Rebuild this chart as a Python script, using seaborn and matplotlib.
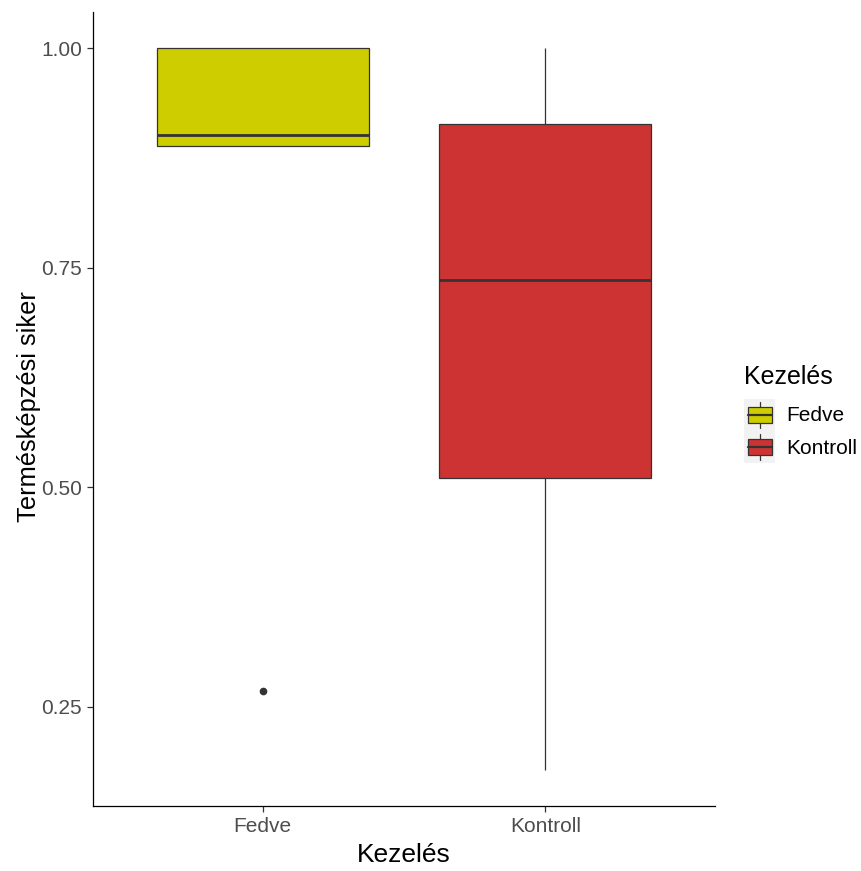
import matplotlib
matplotlib.use("Agg")
import matplotlib.pyplot as plt
from matplotlib.legend_handler import HandlerBase
from matplotlib.patches import Rectangle, Patch
from matplotlib.lines import Line2D
import seaborn as sns
import pandas as pd

# Fruit-set success per treatment group
fedve = [0.268, 0.889, 0.889, 0.901, 1.0, 1.0, 1.0]
kontroll = [0.178, 0.510, 0.736, 0.913, 1.0]
groups = ["Fedve", "Kontroll"]
colors = {"Fedve": "#CDCD00", "Kontroll": "#CD3333"}
y_ticks = [0.25, 0.50, 0.75, 1.00]

df = pd.DataFrame({
    "Kezelés": ["Fedve"] * len(fedve) + ["Kontroll"] * len(kontroll),
    "siker": fedve + kontroll,
})

sns.set_theme(style="white")
plt.rcParams["font.family"] = ["Liberation Sans", "DejaVu Sans"]

fig = plt.figure(figsize=(8.61, 8.71), dpi=100)
ax = fig.add_axes([93 / 861, 65 / 871, 622 / 861, 794 / 871])

edge = "#333333"
sns.boxplot(
    data=df, x="Kezelés", y="siker", hue="Kezelés", order=groups,
    hue_order=groups, palette=colors, saturation=1, width=0.75, dodge=False,
    linecolor=edge, linewidth=0.9, showcaps=False, whis=1.5,
    medianprops={"linewidth": 2.0, "color": edge},
    flierprops={"marker": "o", "markersize": 4.5, "markerfacecolor": edge,
                "markeredgecolor": edge},
    legend=False, ax=ax,
)

ax.set_xlim(-0.6, 1.6)
ax.set_ylim(0.137, 1.041)
ax.set_yticks(y_ticks)
ax.set_yticklabels([f"{t:.2f}" for t in y_ticks])
ax.set_xlabel("Kezelés", fontsize=19, color="black", labelpad=5)
ax.set_ylabel("Termésképzési siker", fontsize=18.3, color="black")
ax.yaxis.set_label_coords(-0.083, 0.503)

for side in ("top", "right"):
    ax.spines[side].set_visible(False)
for side in ("left", "bottom"):
    ax.spines[side].set_color("black")
    ax.spines[side].set_linewidth(0.9)
ax.tick_params(axis="both", which="major", length=4, width=0.9, color=edge,
               labelsize=15, labelcolor="#4D4D4D", pad=4, left=True, bottom=True)


class BoxKeyHandler(HandlerBase):
    """Legend key drawn as a small boxplot glyph on a grey tile."""

    def create_artists(self, legend, orig_handle, xdescent, ydescent,
                       width, height, fontsize, trans):
        x0, y0 = -xdescent, -ydescent
        cx = x0 + width / 2
        bg = Rectangle((x0, y0), width, height, facecolor="#F2F2F2",
                       edgecolor="none", transform=trans)
        whisk = Line2D([cx, cx], [y0 + height * 0.1, y0 + height * 0.9],
                       color=edge, linewidth=0.9, transform=trans)
        bw, bh = width * 0.76, height * 0.5
        box = Rectangle((cx - bw / 2, y0 + (height - bh) / 2), bw, bh,
                        facecolor=orig_handle.get_facecolor(), edgecolor=edge,
                        linewidth=0.9, transform=trans)
        med = Line2D([cx - bw / 2, cx + bw / 2], [y0 + height / 2] * 2,
                     color=edge, linewidth=1.6, transform=trans)
        return [bg, whisk, box, med]


handles = [Patch(facecolor=colors[g]) for g in groups]
leg = fig.legend(
    handles, groups, title="Kezelés", loc="center left",
    bbox_to_anchor=(744 / 861, 1 - 414 / 871), frameon=False,
    handler_map={Patch: BoxKeyHandler()}, handlelength=1.5, handleheight=2.0,
    labelspacing=0.0, handletextpad=0.55, borderpad=0, borderaxespad=0,
    fontsize=15, title_fontsize=18, alignment="left",
)
leg.get_title().set_color("black")
for t in leg.get_texts():
    t.set_color("black")
# a little air between the legend title and the keys
leg._legend_box.sep = 7

fig.savefig("out.png", dpi=100, facecolor="white")
